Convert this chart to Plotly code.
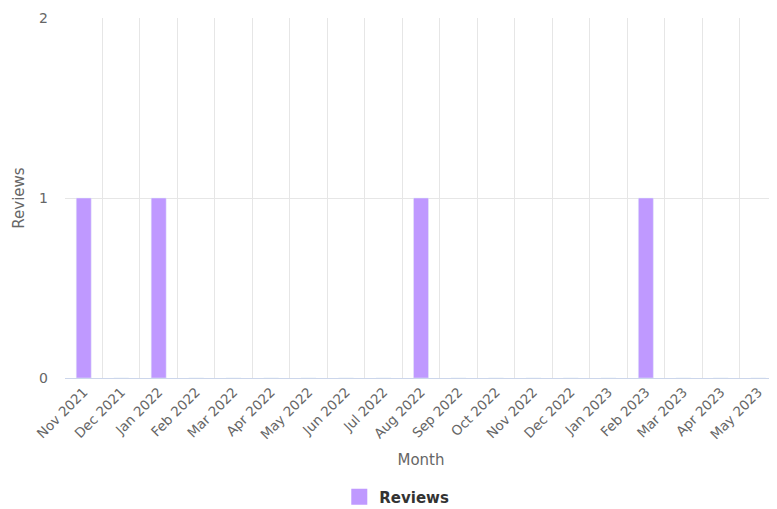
import plotly.graph_objects as go

months = ["Nov 2021", "Dec 2021", "Jan 2022", "Feb 2022", "Mar 2022", "Apr 2022",
          "May 2022", "Jun 2022", "Jul 2022", "Aug 2022", "Sep 2022", "Oct 2022",
          "Nov 2022", "Dec 2022", "Jan 2023", "Feb 2023", "Mar 2023", "Apr 2023", "May 2023"]
reviews = [1, 0, 1, 0, 0, 0, 0, 0, 0, 1, 0, 0, 0, 0, 0, 1, 0, 0, 0]
series_name = "Reviews"
bar_color = "#bf99ff"

fig = go.Figure()
fig.add_trace(go.Bar(x=months, y=reviews, name=series_name, marker_color=bar_color,
                     width=0.4, showlegend=False))
# legend entry with a larger square swatch
fig.add_trace(go.Scatter(x=[None], y=[None], mode="markers", name=series_name,
                         marker=dict(symbol="square", size=16, color=bar_color),
                         showlegend=True))

# page body has an 8px default margin, so the figure is offset by 8px
fig.update_layout(
    width=769, height=501,
    margin=dict(l=57, r=0, t=10, b=131),
    paper_bgcolor="white", plot_bgcolor="white",
    font=dict(family="DejaVu Sans", color="#666666", size=14),
    showlegend=True,
    legend=dict(orientation="h", x=0.466, xanchor="center", xref="paper",
                y=0.024, yanchor="middle", yref="container",
                itemsizing="trace",
                font=dict(size=15, color="#333333", weight="bold")),
    xaxis=dict(type="category", tickson="boundaries", showgrid=True, gridcolor="#e6e6e6",
               gridwidth=1, tickangle=-45, tickfont=dict(size=13.5, color="#666666"),
               showline=True, linecolor="#ccd6eb", ticks="", automargin=False,
               title=dict(text="Month", font=dict(size=15, color="#666666"), standoff=13)),
    yaxis=dict(range=[0, 2], tickvals=[0, 1, 2], showgrid=True, gridcolor="#e6e6e6",
               zeroline=False, tickfont=dict(size=14, color="#666666"), ticklabelstandoff=16,
               automargin=False,
               title=dict(text="Reviews", font=dict(size=15, color="#666666"), standoff=10)),
)

fig.write_html("out.html")
